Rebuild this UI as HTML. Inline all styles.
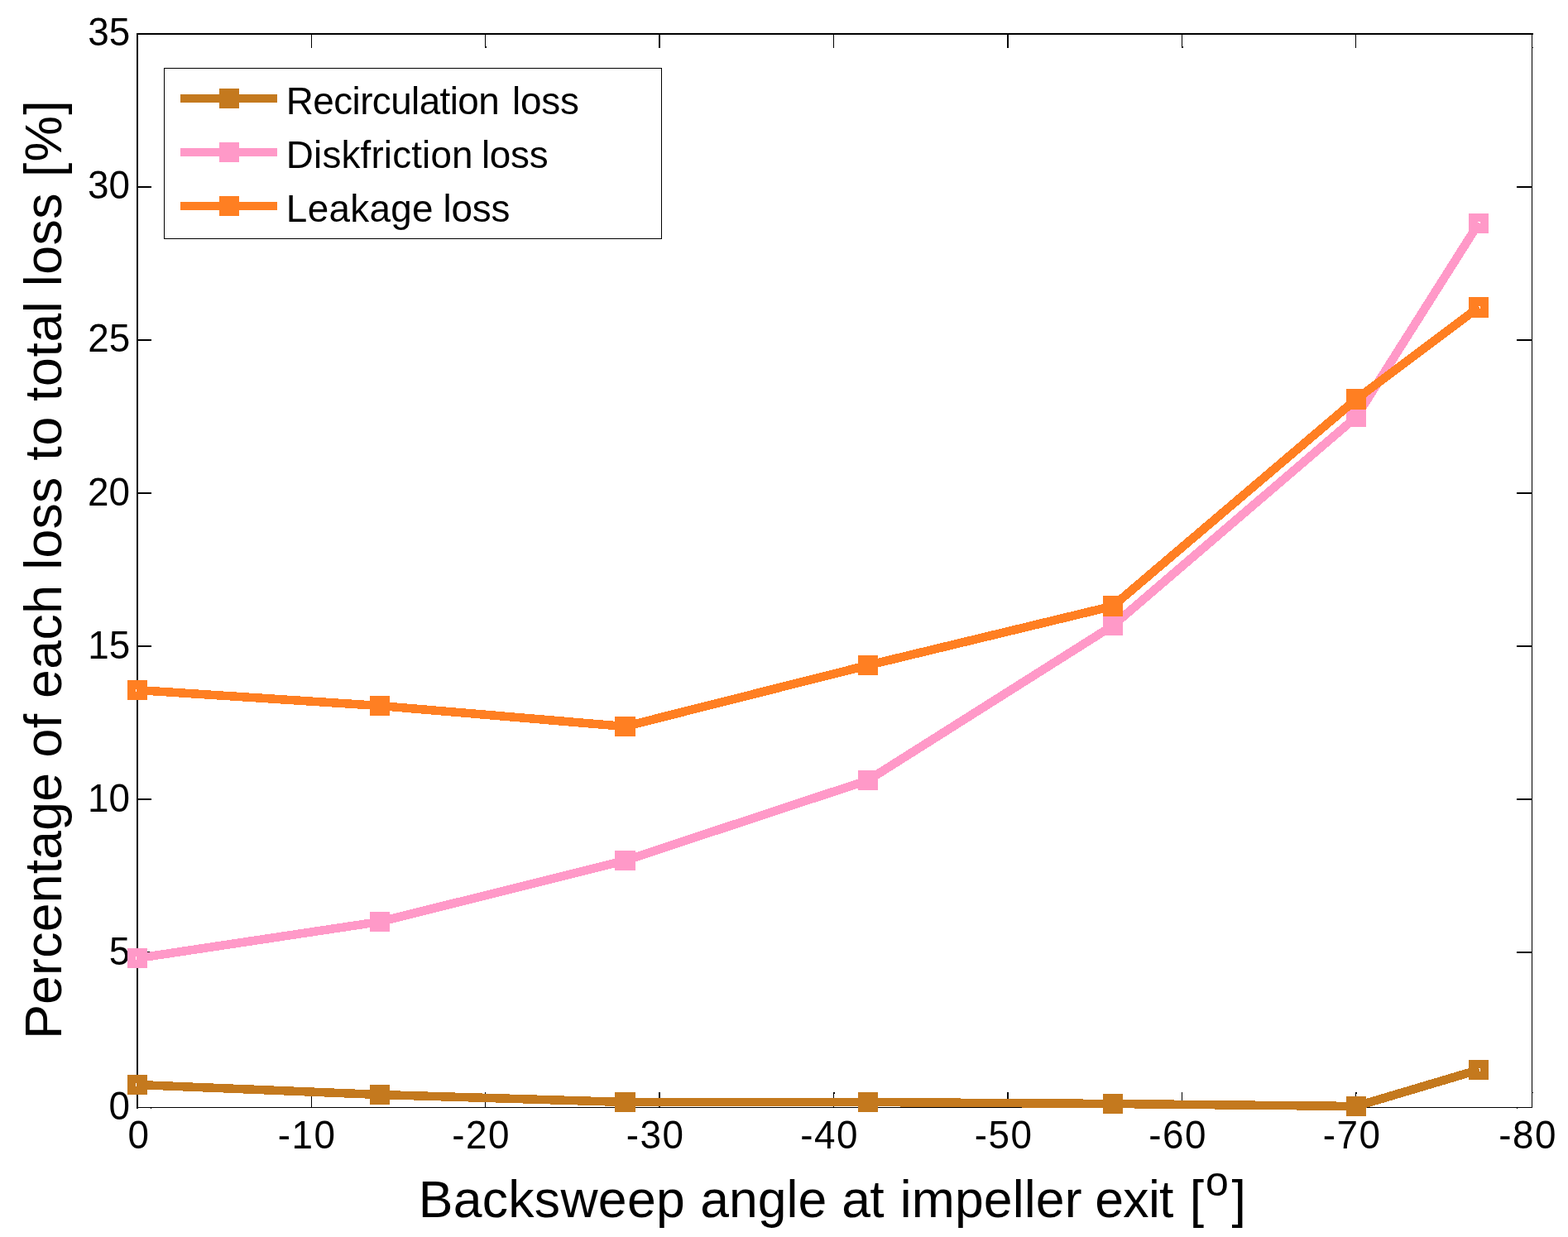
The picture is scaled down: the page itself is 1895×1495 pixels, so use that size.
<!DOCTYPE html>
<html lang="en"><head><meta charset="utf-8"><title>Loss percentage vs backsweep angle</title>
<style>html,body{margin:0;padding:0;background:#fff;}body{width:1895px;height:1495px;overflow:hidden;}svg{display:block;}text{font-family:"Liberation Sans",Arial,Helvetica,sans-serif;fill:#000;font-kerning:none;white-space:pre;}</style>
</head><body>
<svg width="1895" height="1495" viewBox="0 0 1895 1495">
<rect x="0" y="0" width="1895" height="1495" fill="#fff"/>
<g shape-rendering="crispEdges">
<rect x="165" y="40" width="2" height="1300" fill="#000"/>
<rect x="165" y="40" width="1688" height="2" fill="#000"/>
<rect x="1851" y="40" width="1" height="1299" fill="#000"/>
<rect x="165" y="1338" width="1687" height="1" fill="#000"/>
<rect x="376" y="1320" width="1" height="18" fill="#000"/>
<rect x="376" y="42" width="1" height="16" fill="#000"/>
<rect x="586" y="1320" width="1" height="18" fill="#000"/>
<rect x="586" y="42" width="1" height="16" fill="#000"/>
<rect x="796" y="1320" width="2" height="18" fill="#000"/>
<rect x="796" y="42" width="2" height="16" fill="#000"/>
<rect x="1007" y="1320" width="1" height="18" fill="#000"/>
<rect x="1007" y="42" width="1" height="16" fill="#000"/>
<rect x="1217" y="1320" width="2" height="18" fill="#000"/>
<rect x="1217" y="42" width="2" height="16" fill="#000"/>
<rect x="1428" y="1320" width="1" height="18" fill="#000"/>
<rect x="1428" y="42" width="1" height="16" fill="#000"/>
<rect x="1638" y="1320" width="1" height="18" fill="#000"/>
<rect x="1638" y="42" width="1" height="16" fill="#000"/>
<rect x="167" y="225" width="16" height="2" fill="#000"/>
<rect x="1833" y="225" width="18" height="2" fill="#000"/>
<rect x="167" y="410" width="16" height="2" fill="#000"/>
<rect x="1833" y="410" width="18" height="2" fill="#000"/>
<rect x="167" y="595" width="16" height="2" fill="#000"/>
<rect x="1833" y="595" width="18" height="2" fill="#000"/>
<rect x="167" y="780" width="16" height="2" fill="#000"/>
<rect x="1833" y="780" width="18" height="2" fill="#000"/>
<rect x="167" y="965" width="16" height="2" fill="#000"/>
<rect x="1833" y="965" width="18" height="2" fill="#000"/>
<rect x="167" y="1150" width="16" height="2" fill="#000"/>
<rect x="1833" y="1150" width="18" height="2" fill="#000"/>
</g>
<g>
<text transform="translate(106.15,55) scale(1,1.03)" font-size="45.83">35</text>
<text transform="translate(106.01,240) scale(1,1.03)" font-size="45.83">30</text>
<text transform="translate(106.15,425) scale(1,1.03)" font-size="45.83">25</text>
<text transform="translate(106.01,610.8) scale(1,1.03)" font-size="45.83">20</text>
<text transform="translate(106.15,795.8) scale(1,1.03)" font-size="45.83">15</text>
<text transform="translate(106.01,980.8) scale(1,1.03)" font-size="45.83">10</text>
<text transform="translate(131.64,1165.6) scale(1,1.03)" font-size="45.83">5</text>
<text transform="translate(131.5,1352.6) scale(1,1.03)" font-size="45.83">0</text>
<text transform="translate(154.41,1387.7) scale(1,1.03)" font-size="45.83">0</text>
<text transform="translate(335.66,1387.7) scale(1,1.03)" font-size="45.83" style="letter-spacing:1.49px">-10</text>
<text transform="translate(546.16,1387.7) scale(1,1.03)" font-size="45.83" style="letter-spacing:1.49px">-20</text>
<text transform="translate(756.66,1387.7) scale(1,1.03)" font-size="45.83" style="letter-spacing:1.49px">-30</text>
<text transform="translate(967.16,1387.7) scale(1,1.03)" font-size="45.83" style="letter-spacing:1.49px">-40</text>
<text transform="translate(1177.66,1387.7) scale(1,1.03)" font-size="45.83" style="letter-spacing:1.49px">-50</text>
<text transform="translate(1388.16,1387.7) scale(1,1.03)" font-size="45.83" style="letter-spacing:1.49px">-60</text>
<text transform="translate(1598.66,1387.7) scale(1,1.03)" font-size="45.83" style="letter-spacing:1.49px">-70</text>
<text transform="translate(1811.36,1387.7) scale(1,1.03)" font-size="45.83" style="letter-spacing:1.49px">-80</text>
</g>
<g shape-rendering="crispEdges">
<polyline fill="none" stroke="#C4791E" stroke-width="10.5" stroke-linejoin="bevel" stroke-linecap="butt" points="166,1311 459,1323 755.5,1332 1049,1332 1345,1334 1639,1337 1787,1293"/>
<rect x="154" y="1299" width="24" height="24" fill="#C4791E"/>
<rect x="447" y="1311" width="24" height="24" fill="#C4791E"/>
<rect x="743" y="1320" width="25" height="24" fill="#C4791E"/>
<rect x="1037" y="1320" width="24" height="24" fill="#C4791E"/>
<rect x="1333" y="1322" width="24" height="24" fill="#C4791E"/>
<rect x="1627" y="1325" width="24" height="24" fill="#C4791E"/>
<rect x="1775" y="1281" width="24" height="24" fill="#C4791E"/>
</g>
<g shape-rendering="crispEdges">
<polyline fill="none" stroke="#FF99C8" stroke-width="10.5" stroke-linejoin="bevel" stroke-linecap="butt" points="166,1158 459,1114 755.5,1040 1049,943 1345,756 1639,504 1787,270"/>
<rect x="154" y="1146" width="24" height="24" fill="#FF99C8"/>
<rect x="447" y="1102" width="24" height="24" fill="#FF99C8"/>
<rect x="743" y="1028" width="25" height="24" fill="#FF99C8"/>
<rect x="1037" y="931" width="24" height="24" fill="#FF99C8"/>
<rect x="1333" y="744" width="24" height="24" fill="#FF99C8"/>
<rect x="1627" y="492" width="24" height="24" fill="#FF99C8"/>
<rect x="1775" y="258" width="24" height="24" fill="#FF99C8"/>
</g>
<g shape-rendering="crispEdges">
<polyline fill="none" stroke="#FF7F22" stroke-width="10.5" stroke-linejoin="bevel" stroke-linecap="butt" points="166,834 459,853 755.5,878 1049,804 1345,732.5 1639,482.5 1787,371.5"/>
<rect x="154" y="822" width="24" height="24" fill="#FF7F22"/>
<rect x="447" y="841" width="24" height="24" fill="#FF7F22"/>
<rect x="743" y="866" width="25" height="24" fill="#FF7F22"/>
<rect x="1037" y="792" width="24" height="24" fill="#FF7F22"/>
<rect x="1333" y="720" width="24" height="25" fill="#FF7F22"/>
<rect x="1627" y="470" width="24" height="25" fill="#FF7F22"/>
<rect x="1775" y="359" width="24" height="25" fill="#FF7F22"/>
</g>
<g shape-rendering="crispEdges">
<rect x="164" y="1309" width="1" height="4" fill="#fff"/>
<rect x="164" y="1156" width="1" height="4" fill="#fff"/>
<rect x="164" y="833" width="1" height="3" fill="#fff"/>
<rect x="1787" y="1291" width="2" height="1" fill="#fff"/>
<rect x="1788" y="1292" width="1" height="3" fill="#fff"/>
<rect x="1786" y="268" width="3" height="1" fill="#fff"/>
<rect x="1788" y="269" width="1" height="1" fill="#fff"/>
<rect x="1787" y="370" width="2" height="1" fill="#fff"/>
<rect x="1788" y="371" width="1" height="2" fill="#fff"/>
<rect x="1852" y="57" width="1" height="1" fill="#000"/>
<rect x="1852" y="1320" width="1" height="1" fill="#000"/>
<rect x="182" y="1339" width="1" height="1" fill="#000"/>
<rect x="1833" y="1339" width="1" height="1" fill="#000"/>
<rect x="587" y="56" width="1" height="2" fill="#000"/>
<rect x="1429" y="56" width="1" height="2" fill="#000"/>
<rect x="1008" y="1320" width="1" height="2" fill="#000"/>
<rect x="1639" y="1320" width="1" height="2" fill="#000"/>
</g>
<g shape-rendering="crispEdges">
<rect x="198.5" y="82.5" width="601" height="206" fill="#fff" stroke="#000" stroke-width="1"/>
<rect x="218" y="114" width="117" height="10" fill="#C4791E"/>
<rect x="265" y="107" width="24" height="24" fill="#C4791E"/>
<rect x="218" y="179" width="117" height="10" fill="#FF99C8"/>
<rect x="265" y="172" width="24" height="24" fill="#FF99C8"/>
<rect x="218" y="244" width="117" height="10" fill="#FF7F22"/>
<rect x="265" y="237" width="24" height="24" fill="#FF7F22"/>
</g>
<g>
<text y="138" font-size="45.83"><tspan x="345.84" style="letter-spacing:-0.59px">Recirculation</tspan> <tspan x="618.91" style="letter-spacing:-0.19px">loss</tspan></text>
<text y="203" font-size="45.83"><tspan x="345.84" style="letter-spacing:0.15px">Diskfriction</tspan> <tspan x="581.91" style="letter-spacing:-0.25px">loss</tspan></text>
<text y="268" font-size="45.83"><tspan x="345.84" style="letter-spacing:0.31px">Leakage</tspan> <tspan x="535.41" style="letter-spacing:-0.19px">loss</tspan></text>
</g>
<g>
<text y="1471" font-size="62.5"><tspan x="505.77" style="letter-spacing:0.29px">Backsweep</tspan> <tspan x="846.24" style="letter-spacing:0px">angle</tspan> <tspan x="1017.34" style="letter-spacing:-0.8px">at</tspan> <tspan x="1087.72" style="letter-spacing:0.14px">impeller</tspan> <tspan x="1323.34" style="letter-spacing:-0.72px">exit</tspan> <tspan x="1437.64">[</tspan><tspan x="1457" dy="-26.4" font-size="50">o</tspan><tspan x="1488.61" dy="26.4">]</tspan></text>
<text transform="translate(74,1495) rotate(-90)" font-size="62.5"><tspan x="239.17" style="letter-spacing:0.25px">Percentage</tspan> <tspan x="579.48" style="letter-spacing:0.5px">of</tspan> <tspan x="651.14" style="letter-spacing:0.46px">each</tspan> <tspan x="806.19" style="letter-spacing:0.31px">loss</tspan> <tspan x="938.35" style="letter-spacing:0.85px">to</tspan> <tspan x="1010.05" style="letter-spacing:0.62px">total</tspan> <tspan x="1148.79" style="letter-spacing:0.54px">loss</tspan> <tspan x="1281.04" style="letter-spacing:1.15px">[&#37;]</tspan></text>
</g>
</svg>
</body></html>
